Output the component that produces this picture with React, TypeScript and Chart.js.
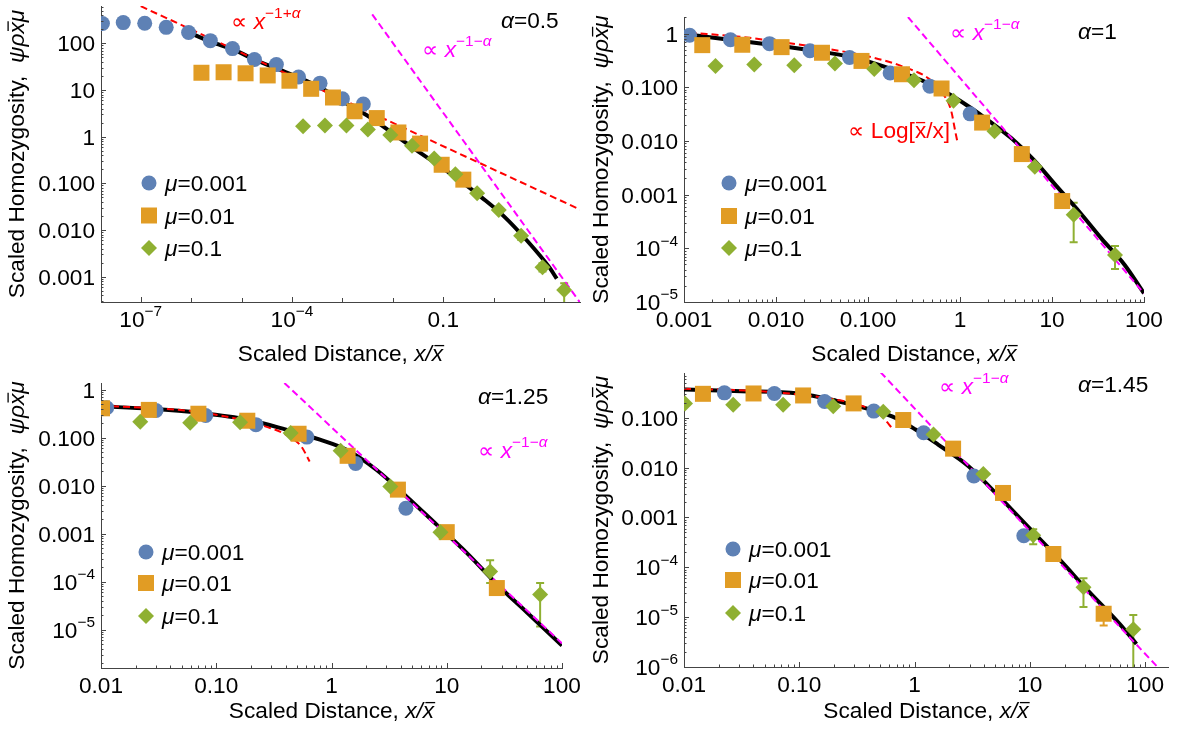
import React, { useEffect, useRef } from "react";
import { Chart, registerables } from "chart.js";

Chart.register(...registerables);

type Pt = [number, number];
type Err = [number, number, number];
type Seg = { t: string; it?: boolean; sup?: boolean; bar?: boolean };

// ---------------- shared labels ----------------
const muValues = ["0.001", "0.01", "0.1"];
const alphaValues = ["0.5", "1", "1.25", "1.45"];

// ---------------- Panel 1 : alpha = 0.5 ----------------
const p1XRange: Pt = [1.63e-8, 51.5];
const p1YRange: Pt = [2.87e-4, 630];
const p1XTickVals = [1e-7, 1e-4, 0.1];
const p1XTickText = ["10^−7", "10^−4", "0.1"];
const p1YTickVals = [100, 10, 1, 0.1, 0.01, 0.001];
const p1YTickText = ["100", "10", "1", "0.100", "0.010", "0.001"];
const p1Blue: Pt[] = [[1.74e-8, 265], [4.5e-8, 278], [1.2e-7, 269], [3.2e-7, 220], [8.9e-7, 170], [2.4e-6, 114], [6.6e-6, 77], [1.8e-5, 45], [4.9e-5, 35], [1.35e-4, 19], [3.6e-4, 14], [1.0e-3, 6.5], [2.6e-3, 5.0]];
const p1Orange: Pt[] = [[1.6e-6, 23.4], [4.4e-6, 24], [1.2e-5, 22.8], [3.3e-5, 20.5], [8.9e-5, 15.8], [2.4e-4, 10.6], [6.5e-4, 6.9], [1.74e-3, 3.5], [4.8e-3, 2.5], [0.0129, 1.23], [0.0347, 0.71], [0.093, 0.25], [0.25, 0.12]];
const p1Green: Pt[] = [[1.66e-4, 1.67], [4.5e-4, 1.73], [1.2e-3, 1.73], [3.2e-3, 1.42], [8.9e-3, 1.09], [0.024, 0.64], [0.066, 0.34], [0.174, 0.156], [0.47, 0.061], [1.26, 0.027], [3.5, 0.0075], [9.3, 0.0016], [25, 0.00052]];
const p1GreenErr: Err[] = [[3.5, 0.0062, 0.0085], [9.3, 0.0013, 0.00195], [25, 2e-4, 7.2e-4]];
const p1OrangeErr: Err[] = [];
const p1Theory: Pt[] = [[7.6e-7, 185], [2.5e-6, 107], [7.1e-6, 72], [1.8e-5, 45], [5.5e-5, 27.6], [1.55e-4, 17.4], [4.3e-4, 10.3], [1.2e-3, 5.1], [3.4e-3, 2.65], [9.3e-3, 1.24], [0.026, 0.56], [0.074, 0.26], [0.204, 0.12], [0.575, 0.05], [1.62, 0.0194], [4.47, 0.0061], [12.6, 0.0016], [17.8, 0.00091]];
const p1Red: Pt[] = [[1e-7, 625], [51.5, 0.0275]];
const p1Magenta: Pt[] = [[0.0039, 417], [51.5, 2.8e-4]];

// ---------------- Panel 2 : alpha = 1 ----------------
const p2XRange: Pt = [0.001, 100];
const p2YRange: Pt = [1e-5, 2.04];
const p2XTickVals = [0.001, 0.01, 0.1, 1, 10, 100];
const p2XTickText = ["0.001", "0.010", "0.100", "1", "10", "100"];
const p2YTickVals = [1, 0.1, 0.01, 0.001, 1e-4, 1e-5];
const p2YTickText = ["1", "0.100", "0.010", "0.001", "10^−4", "10^−5"];
const p2Blue: Pt[] = [[1.15e-3, 0.93], [3.2e-3, 0.77], [8.5e-3, 0.65], [0.0234, 0.48], [0.063, 0.36], [0.174, 0.185], [0.47, 0.105], [1.29, 0.032]];
const p2Orange: Pt[] = [[1.58e-3, 0.61], [4.3e-3, 0.62], [0.0115, 0.56], [0.0316, 0.44], [0.085, 0.31], [0.234, 0.175], [0.63, 0.095], [1.74, 0.022], [4.7, 0.0057], [12.9, 7.6e-4]];
const p2Green: Pt[] = [[2.2e-3, 0.25], [5.8e-3, 0.265], [0.0158, 0.257], [0.0437, 0.277], [0.117, 0.22], [0.316, 0.135], [0.85, 0.056], [2.37, 0.0152], [6.5, 0.0033], [17.2, 4.2e-4], [48.4, 7.5e-5]];
const p2GreenErr: Err[] = [[17.2, 1.3e-4, 7.1e-4], [48.4, 4.1e-5, 1.1e-4]];
const p2OrangeErr: Err[] = [];
const p2Theory: Pt[] = [[1.12e-3, 0.96], [3.1e-3, 0.77], [8.7e-3, 0.62], [0.0245, 0.49], [0.069, 0.36], [0.178, 0.22], [0.457, 0.118], [0.8, 0.071], [1.29, 0.042], [2.06, 0.0237], [3.63, 0.0112], [6.38, 0.0044], [11.2, 0.00144], [20, 4.7e-4], [34.7, 1.5e-4], [61.7, 4.9e-5], [100, 1.45e-5]];
const p2Red: Pt[] = [[1.15e-3, 1.04], [4.1e-3, 0.87], [0.027, 0.56], [0.112, 0.36], [0.28, 0.22], [0.457, 0.145], [0.66, 0.074], [0.8, 0.037], [0.89, 0.0148], [0.93, 0.0103]];
const p2Magenta: Pt[] = [[0.272, 2.04], [100, 1.45e-5]];

// ---------------- Panel 3 : alpha = 1.25 ----------------
const p3XRange: Pt = [0.01, 100];
const p3YRange: Pt = [1.6e-6, 1.38];
const p3XTickVals = [0.01, 0.1, 1, 10, 100];
const p3XTickText = ["0.01", "0.10", "1", "10", "100"];
const p3YTickVals = [1, 0.1, 0.01, 0.001, 1e-4, 1e-5];
const p3YTickText = ["1", "0.100", "0.010", "0.001", "10^−4", "10^−5"];
const p3Blue: Pt[] = [[0.0112, 0.42], [0.03, 0.37], [0.081, 0.29], [0.221, 0.187], [0.611, 0.103], [1.62, 0.029], [4.42, 0.0034]];
const p3Orange: Pt[] = [[0.0102, 0.41], [0.026, 0.38], [0.07, 0.316], [0.186, 0.226], [0.518, 0.121], [1.38, 0.042], [3.77, 0.0083], [10, 0.00108], [27.2, 7.4e-5]];
const p3Green: Pt[] = [[0.0219, 0.215], [0.0594, 0.205], [0.161, 0.209], [0.442, 0.125], [1.2, 0.0535], [3.24, 0.0097], [8.81, 0.00107], [23.8, 1.64e-4], [64.6, 5.4e-5]];
const p3GreenErr: Err[] = [[23.8, 9.4e-5, 2.8e-4], [64.6, 1.17e-5, 9.4e-5]];
const p3OrangeErr: Err[] = [[27.2, 5.5e-5, 9.5e-5]];
const p3Theory: Pt[] = [[0.01, 0.45], [0.0269, 0.4], [0.0716, 0.33], [0.19, 0.237], [0.404, 0.147], [0.794, 0.091], [1.35, 0.056], [2.45, 0.0215], [4.47, 0.006], [8.17, 0.00155], [14.9, 4e-4], [27.2, 8.9e-5], [49.7, 2.3e-5], [100, 4.7e-6]];
const p3Red: Pt[] = [[0.01, 0.46], [0.0269, 0.415], [0.0716, 0.343], [0.164, 0.237], [0.239, 0.187], [0.404, 0.115], [0.546, 0.066], [0.646, 0.032]];
const p3Magenta: Pt[] = [[0.39, 1.38], [100, 5.2e-6]];

// ---------------- Panel 4 : alpha = 1.45 ----------------
const p4XRange: Pt = [0.01, 158];
const p4YRange: Pt = [1e-6, 0.79];
const p4XTickVals = [0.01, 0.1, 1, 10, 100];
const p4XTickText = ["0.01", "0.10", "1", "10", "100"];
const p4YTickVals = [0.1, 0.01, 0.001, 1e-4, 1e-5, 1e-6];
const p4YTickText = ["0.100", "0.010", "0.001", "10^−4", "10^−5", "10^−6"];
const p4Blue: Pt[] = [[0.0224, 0.316], [0.0608, 0.307], [0.166, 0.212], [0.443, 0.136], [1.2, 0.05], [3.27, 0.0068], [8.87, 4.3e-4]];
const p4Orange: Pt[] = [[0.0146, 0.302], [0.0401, 0.307], [0.108, 0.28], [0.296, 0.194], [0.798, 0.09], [2.16, 0.024], [5.85, 0.0031], [16, 1.85e-4], [43.7, 1.17e-5]];
const p4Green: Pt[] = [[0.0102, 0.194], [0.0267, 0.182], [0.0724, 0.182], [0.197, 0.171], [0.535, 0.132], [1.46, 0.046], [3.95, 0.0074], [10.7, 4.4e-4], [29.2, 4e-5], [79, 5.7e-6]];
const p4GreenErr: Err[] = [[10.7, 2.9e-4, 5.8e-4], [29.2, 1.6e-5, 6e-5], [79, 8e-7, 1.1e-5]];
const p4OrangeErr: Err[] = [[43.7, 6.8e-6, 1.4e-5]];
const p4Theory: Pt[] = [[0.01, 0.369], [0.0315, 0.341], [0.0977, 0.307], [0.208, 0.22], [0.41, 0.147], [0.646, 0.105], [1.02, 0.058], [1.6, 0.029], [2.92, 0.0108], [5.35, 0.0027], [9.77, 6.3e-4], [17.9, 1.47e-4], [32.7, 3.2e-5], [59.8, 7.4e-6], [84.1, 2.9e-6]];
const p4Red: Pt[] = [[0.01, 0.38], [0.0457, 0.34], [0.166, 0.25], [0.355, 0.171], [0.515, 0.108], [0.646, 0.06]];
const p4Magenta: Pt[] = [[0.507, 0.82], [132, 9.3e-7]];

// ---------------- styles ----------------
const BLUE = "#5E81B5";
const ORANGE = "#E19C24";
const GREEN = "#8FB032";
const RED = "#FF0000";
const MAGENTA = "#FF00FF";
const AXIS = "#444444";
const TEXT = "#000000";
const FONT = '"Liberation Sans", Arial, Helvetica, sans-serif';
const FS = 22;
const SX = 1.03;
const SUP_SCALE = 0.68;
const SUP_SHIFT = 0.48;
const CIRCLE_R = 7.5;
const SQUARE_HALF = 8;
const DIAMOND_R = 8;

const powLow: Seg[] = [{ t: "∝ " }, { t: "x", it: true }, { t: "−1+", sup: true }, { t: "α", sup: true, it: true }];
const powHigh: Seg[] = [{ t: "∝ " }, { t: "x", it: true }, { t: "−1−", sup: true }, { t: "α", sup: true, it: true }];
const logLabel: Seg[] = [{ t: "∝ Log[" }, { t: "x", bar: true }, { t: "/x]" }];
const yTitle: Seg[] = [{ t: "Scaled Homozygosity,  " }, { t: "ψρ", it: true }, { t: "x", it: true, bar: true }, { t: "μ", it: true }];
const xTitle: Seg[] = [{ t: "Scaled Distance, " }, { t: "x/", it: true }, { t: "x", it: true, bar: true }];

interface PanelCfg {
  id: string;
  left: number; top: number; width: number; height: number;
  pad: { left: number; top: number; right: number; bottom: number };
  xRange: Pt; yRange: Pt;
  xTickVals: number[]; xTickText: string[]; yTickVals: number[]; yTickText: string[];
  xMinor: boolean; yMinor: boolean;
  blue: Pt[]; orange: Pt[]; green: Pt[]; theory: Pt[]; red: Pt[]; magenta: Pt[];
  greenErr: Err[]; orangeErr: Err[];
  alpha: string; alphaAt: Pt;
  redLabel: Seg[] | null; redAt: Pt;
  magAt: Pt;
  legendMarkX: number; legendTextX: number; legendRows: number[];
  yTitleX: number; xTitleBase: number;
}

const panels: PanelCfg[] = [
  {
    id: "p1", left: 0, top: 0, width: 590, height: 367,
    pad: { left: 101, top: 6, right: 10, bottom: 65 },
    xRange: p1XRange, yRange: p1YRange,
    xTickVals: p1XTickVals, xTickText: p1XTickText, yTickVals: p1YTickVals, yTickText: p1YTickText,
    xMinor: false, yMinor: true,
    blue: p1Blue, orange: p1Orange, green: p1Green, theory: p1Theory, red: p1Red, magenta: p1Magenta,
    greenErr: p1GreenErr, orangeErr: p1OrangeErr,
    alpha: alphaValues[0], alphaAt: [501, 28],
    redLabel: powLow, redAt: [231, 29],
    magAt: [422, 57],
    legendMarkX: 149, legendTextX: 165, legendRows: [183, 215.5, 248],
    yTitleX: 23.5, xTitleBase: 361,
  },
  {
    id: "p2", left: 590, top: 0, width: 590, height: 367,
    pad: { left: 94, top: 17, right: 36, bottom: 65 },
    xRange: p2XRange, yRange: p2YRange,
    xTickVals: p2XTickVals, xTickText: p2XTickText, yTickVals: p2YTickVals, yTickText: p2YTickText,
    xMinor: true, yMinor: true,
    blue: p2Blue, orange: p2Orange, green: p2Green, theory: p2Theory, red: p2Red, magenta: p2Magenta,
    greenErr: p2GreenErr, orangeErr: p2OrangeErr,
    alpha: alphaValues[1], alphaAt: [488, 39],
    redLabel: logLabel, redAt: [258, 138],
    magAt: [360, 40],
    legendMarkX: 139, legendTextX: 155, legendRows: [183, 216, 248],
    yTitleX: 18, xTitleBase: 361,
  },
  {
    id: "p3", left: 0, top: 367, width: 590, height: 368,
    pad: { left: 101, top: 16, right: 28, bottom: 67 },
    xRange: p3XRange, yRange: p3YRange,
    xTickVals: p3XTickVals, xTickText: p3XTickText, yTickVals: p3YTickVals, yTickText: p3YTickText,
    xMinor: true, yMinor: true,
    blue: p3Blue, orange: p3Orange, green: p3Green, theory: p3Theory, red: p3Red, magenta: p3Magenta,
    greenErr: p3GreenErr, orangeErr: p3OrangeErr,
    alpha: alphaValues[2], alphaAt: [478, 37],
    redLabel: null, redAt: [0, 0],
    magAt: [478, 91],
    legendMarkX: 146, legendTextX: 162, legendRows: [185, 216, 249],
    yTitleX: 23.5, xTitleBase: 351,
  },
  {
    id: "p4", left: 590, top: 367, width: 590, height: 368,
    pad: { left: 94, top: 6, right: 12, bottom: 68 },
    xRange: p4XRange, yRange: p4YRange,
    xTickVals: p4XTickVals, xTickText: p4XTickText, yTickVals: p4YTickVals, yTickText: p4YTickText,
    xMinor: true, yMinor: true,
    blue: p4Blue, orange: p4Orange, green: p4Green, theory: p4Theory, red: p4Red, magenta: p4Magenta,
    greenErr: p4GreenErr, orangeErr: p4OrangeErr,
    alpha: alphaValues[3], alphaAt: [488, 25],
    redLabel: null, redAt: [0, 0],
    magAt: [349, 27],
    legendMarkX: 143, legendTextX: 159, legendRows: [182, 213, 246],
    yTitleX: 18, xTitleBase: 351,
  },
];

// ---------------- drawing helpers ----------------
function segFont(s: Seg, size: number) {
  const sz = s.sup ? size * SUP_SCALE : size;
  return `${s.it ? "italic " : ""}${sz}px ${FONT}`;
}

function drawRich(
  ctx: CanvasRenderingContext2D, segs: Seg[], x: number, y: number, size: number,
  color: string, align: "left" | "center" | "right" = "left", rot = 0
) {
  ctx.save();
  ctx.translate(x, y);
  if (rot) ctx.rotate(rot);
  ctx.scale(SX, 1);
  let w = 0;
  for (const s of segs) {
    ctx.font = segFont(s, size);
    w += ctx.measureText(s.t).width;
  }
  let cx = align === "left" ? 0 : align === "center" ? -w / 2 : -w;
  ctx.fillStyle = color;
  ctx.strokeStyle = color;
  ctx.textAlign = "left";
  ctx.textBaseline = "alphabetic";
  for (const s of segs) {
    ctx.font = segFont(s, size);
    const sw = ctx.measureText(s.t).width;
    const dy = s.sup ? -size * SUP_SHIFT : 0;
    ctx.fillText(s.t, cx, dy);
    if (s.bar) {
      const by = dy - size * 0.7;
      ctx.lineWidth = 1.3;
      ctx.beginPath();
      ctx.moveTo(cx + (s.it ? 2.5 : 1), by);
      ctx.lineTo(cx + sw + (s.it ? 1 : -1), by);
      ctx.stroke();
    }
    cx += sw;
  }
  ctx.restore();
}

function parseTick(s: string): Seg[] {
  const i = s.indexOf("^");
  if (i < 0) return [{ t: s }];
  return [{ t: s.slice(0, i) }, { t: s.slice(i + 1), sup: true }];
}

function logTicks(min: number, max: number, minor: boolean) {
  const out: { v: number; k: number }[] = [];
  const d0 = Math.floor(Math.log10(min));
  const d1 = Math.ceil(Math.log10(max));
  for (let d = d0; d <= d1; d++) {
    for (let k = 1; k <= 9; k++) {
      if (!minor && k > 1) break;
      const v = k * Math.pow(10, d);
      if (v >= min * 0.9999 && v <= max * 1.0001) out.push({ v, k });
    }
  }
  return out;
}

function isLabeled(v: number, vals: number[]) {
  return vals.some((u) => Math.abs(Math.log10(u) - Math.log10(v)) < 1e-6);
}

function drawMarker(ctx: CanvasRenderingContext2D, kind: number, x: number, y: number) {
  ctx.beginPath();
  if (kind === 0) {
    ctx.fillStyle = BLUE;
    ctx.arc(x, y, CIRCLE_R, 0, Math.PI * 2);
  } else if (kind === 1) {
    ctx.fillStyle = ORANGE;
    ctx.rect(x - SQUARE_HALF, y - SQUARE_HALF, SQUARE_HALF * 2, SQUARE_HALF * 2);
  } else {
    ctx.fillStyle = GREEN;
    ctx.moveTo(x - DIAMOND_R, y);
    ctx.lineTo(x, y - DIAMOND_R);
    ctx.lineTo(x + DIAMOND_R, y);
    ctx.lineTo(x, y + DIAMOND_R);
    ctx.closePath();
  }
  ctx.fill();
}

function decorPlugin(cfg: PanelCfg) {
  return {
    id: "decor_" + cfg.id,
    beforeDatasetsDraw(chart: any) {
      const ctx: CanvasRenderingContext2D = chart.ctx;
      const xs = chart.scales.x;
      const ys = chart.scales.y;
      const a = chart.chartArea;
      ctx.save();
      ctx.beginPath();
      ctx.rect(a.left, a.top, a.right - a.left, a.bottom - a.top);
      ctx.clip();
      const bars: [Err[], string][] = [[cfg.orangeErr, ORANGE], [cfg.greenErr, GREEN]];
      for (const [list, col] of bars) {
        ctx.strokeStyle = col;
        ctx.lineWidth = 2;
        for (const [x, lo, hi] of list) {
          const px = xs.getPixelForValue(x);
          const pl = ys.getPixelForValue(lo);
          const ph = ys.getPixelForValue(hi);
          ctx.beginPath();
          ctx.moveTo(px, pl);
          ctx.lineTo(px, ph);
          ctx.moveTo(px - 4, pl);
          ctx.lineTo(px + 4, pl);
          ctx.moveTo(px - 4, ph);
          ctx.lineTo(px + 4, ph);
          ctx.stroke();
        }
      }
      ctx.restore();
    },
    afterDraw(chart: any) {
      const ctx: CanvasRenderingContext2D = chart.ctx;
      const xs = chart.scales.x;
      const ys = chart.scales.y;
      const a = chart.chartArea;
      ctx.save();
      // inward tick marks
      ctx.strokeStyle = AXIS;
      ctx.lineWidth = 1;
      for (const t of logTicks(cfg.xRange[0], cfg.xRange[1], cfg.xMinor)) {
        const px = Math.round(xs.getPixelForValue(t.v)) + 0.5;
        const len = t.k === 1 ? (isLabeled(t.v, cfg.xTickVals) ? 5 : 4) : 2.5;
        ctx.beginPath();
        ctx.moveTo(px, a.bottom);
        ctx.lineTo(px, a.bottom - len);
        ctx.stroke();
      }
      for (const t of logTicks(cfg.yRange[0], cfg.yRange[1], cfg.yMinor)) {
        const py = Math.round(ys.getPixelForValue(t.v)) + 0.5;
        const len = t.k === 1 ? 5 : 2.5;
        ctx.beginPath();
        ctx.moveTo(a.left, py);
        ctx.lineTo(a.left + len, py);
        ctx.stroke();
      }
      // tick labels
      cfg.xTickVals.forEach((v, i) => {
        drawRich(ctx, parseTick(cfg.xTickText[i]), xs.getPixelForValue(v), a.bottom + 25, FS, TEXT, "center");
      });
      cfg.yTickVals.forEach((v, i) => {
        drawRich(ctx, parseTick(cfg.yTickText[i]), a.left - 6, ys.getPixelForValue(v) + 8, FS, TEXT, "right");
      });
      // axis titles
      drawRich(ctx, xTitle, (a.left + a.right) / 2, cfg.xTitleBase, FS, TEXT, "center");
      drawRich(ctx, yTitle, cfg.yTitleX, (a.top + a.bottom) / 2, FS, TEXT, "center", -Math.PI / 2);
      // annotations
      drawRich(ctx, [{ t: "α", it: true }, { t: "=" + cfg.alpha }], cfg.alphaAt[0], cfg.alphaAt[1], FS, TEXT, "left");
      drawRich(ctx, powHigh, cfg.magAt[0], cfg.magAt[1], FS, MAGENTA, "left");
      if (cfg.redLabel) drawRich(ctx, cfg.redLabel, cfg.redAt[0], cfg.redAt[1], FS, RED, "left");
      // legend
      muValues.forEach((mu, i) => {
        const y = cfg.legendRows[i];
        drawMarker(ctx, i, cfg.legendMarkX, y);
        drawRich(ctx, [{ t: "μ", it: true }, { t: "=" + mu }], cfg.legendTextX, y + 8, FS, TEXT, "left");
      });
      ctx.restore();
    },
  };
}

function buildConfig(cfg: PanelCfg): any {
  const pts = (arr: Pt[]) => arr.map(([x, y]) => ({ x, y }));
  const scaleBase = {
    type: "logarithmic",
    bounds: "data",
    grid: { display: false, drawTicks: false },
    border: { display: true, color: AXIS, width: 1 },
    ticks: { display: false },
  };
  return {
    type: "scatter",
    data: {
      datasets: [
        { label: "μ=0.1", data: pts(cfg.green), pointStyle: "rectRot", pointRadius: DIAMOND_R, backgroundColor: GREEN, borderWidth: 0, order: 0, clip: 0 },
        { label: "μ=0.01", data: pts(cfg.orange), pointStyle: "rect", pointRadius: SQUARE_HALF * Math.SQRT2, backgroundColor: ORANGE, borderWidth: 0, order: 1, clip: 0 },
        { label: "μ=0.001", data: pts(cfg.blue), pointStyle: "circle", pointRadius: CIRCLE_R, backgroundColor: BLUE, borderWidth: 0, order: 2, clip: 0 },
        { label: "small-x asymptote", data: pts(cfg.red), showLine: true, pointRadius: 0, borderColor: RED, borderWidth: 2, borderDash: [7, 4], cubicInterpolationMode: "monotone", order: 3, clip: 0 },
        { label: "large-x asymptote", data: pts(cfg.magenta), showLine: true, pointRadius: 0, borderColor: MAGENTA, borderWidth: 2, borderDash: [7, 4], order: 4, clip: 0 },
        { label: "theory", data: pts(cfg.theory), showLine: true, pointRadius: 0, borderColor: "#000000", borderWidth: 4, borderJoinStyle: "round", cubicInterpolationMode: "monotone", order: 5, clip: 0 },
      ],
    },
    options: {
      animation: false,
      responsive: false,
      maintainAspectRatio: false,
      events: [],
      layout: { padding: cfg.pad, autoPadding: false },
      plugins: { legend: { display: false }, tooltip: { enabled: false }, title: { display: false } },
      scales: {
        x: { ...scaleBase, position: "bottom", min: cfg.xRange[0], max: cfg.xRange[1], afterFit: (s: any) => { s.height = 0; } },
        y: { ...scaleBase, position: "left", min: cfg.yRange[0], max: cfg.yRange[1], afterFit: (s: any) => { s.width = 0; } },
      },
    },
    plugins: [decorPlugin(cfg)],
  };
}

function Panel({ cfg }: { cfg: PanelCfg }) {
  const ref = useRef<HTMLCanvasElement>(null);
  useEffect(() => {
    if (!ref.current) return;
    const chart = new Chart(ref.current, buildConfig(cfg));
    return () => chart.destroy();
  }, [cfg]);
  return (
    <canvas
      ref={ref}
      width={cfg.width}
      height={cfg.height}
      style={{ position: "absolute", left: cfg.left, top: cfg.top, width: cfg.width, height: cfg.height }}
    />
  );
}

export default function App() {
  return (
    <div style={{ position: "fixed", left: 0, top: 0, width: 1180, height: 735, background: "#ffffff", overflow: "hidden" }}>
      {panels.map((p) => (
        <Panel key={p.id} cfg={p} />
      ))}
    </div>
  );
}
